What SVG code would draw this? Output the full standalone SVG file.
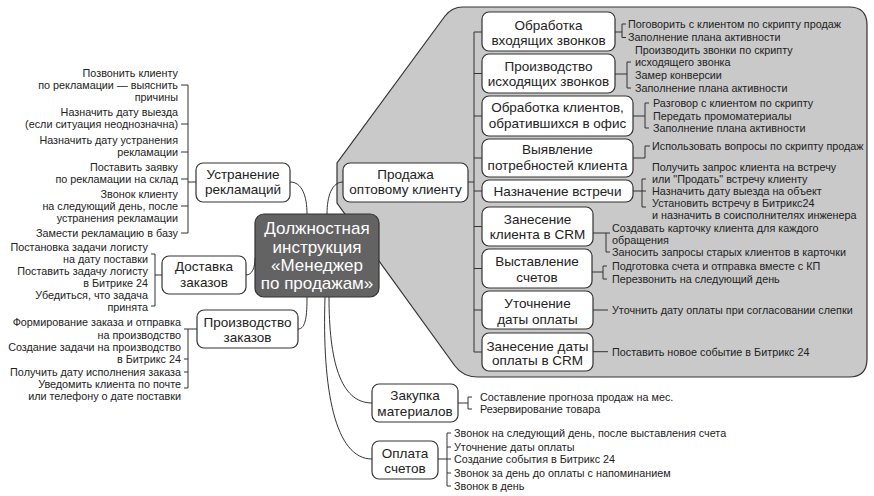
<svg xmlns="http://www.w3.org/2000/svg" width="874" height="496" viewBox="0 0 874 496">
<style>
text{font-family:"Liberation Sans",Arial,sans-serif;fill:#222}
.leaf{font-size:10.8px}
.l1{font-size:13.5px;text-anchor:middle}
.box{fill:#fff;stroke:#333;stroke-width:1.2}
.ln{fill:none;stroke:#333;stroke-width:1}
.ctr{font-size:17px;fill:#fff;text-anchor:middle}
.end{text-anchor:end}
</style>
<rect width="874" height="496" fill="#fff"/>
<g id="panel">
<path d="M463,7 L849,7 Q867,7 867,25 L867,359 Q867,377 849,377 L478,377 Q463,377 455,366 L337,203 L337,163 L445,16 Q452,7 463,7 Z" fill="#c9c9c9" stroke="#333" stroke-width="1.2"/>
</g>
<g id="connectors" class="ln">
<path d="M290,182 C302,182 307,196 307,214"/>
<path d="M327,214 C327,196 332,182 343,182"/>
<path d="M246,275 C252,275 255,268 255,258"/>
<path d="M307,297 C307,315 306,329 298,329"/>
<path d="M329,297 C329,360 340,403 372,403"/>
<path d="M325,297 C322,390 335,459 372,459"/>
<path d="M181,85 H188 V233 H181 M181,124 H188 M181,152 H188 M181,179 H188 M181,206 H188 M188,182 H196"/>
<path d="M151,254 H155 V306 H151 M155,275 H162"/>
<path d="M184,329 H197 M188,329 V388 H184 M184,359 H188 M184,372 H188"/>
<path d="M468,182 H474 M482,32 H474 V352 H482 M474,73.5 H482 M474,116 H482 M474,158 H482 M474,191 H482 M474,226.5 H482 M474,268.5 H482 M474,310 H482"/>
<path d="M615,32 H622 M626,24 H622 V37.5 H626"/>
<path d="M615,74 H627 M631,62 H627 V88 H631"/>
<path d="M633,116 H645 M649,103 H645 V128 H649"/>
<path d="M633,158 H645 V146 H650"/>
<path d="M633,191 H646 M646,179 H642 V207 H646"/>
<path d="M593,233 H610 M606,233 V252 H610"/>
<path d="M592,272 H603 M607,266 H603 V279 H607"/>
<path d="M593,310 H608"/>
<path d="M593,351.7 H608"/>
<path d="M458,403 H468 M472,397 H468 V409 H472"/>
<path d="M438,459 H451 M451,433 H447 V486 H451 M447,447 H451 M447,473 H451"/>
</g>
<g id="center">
<rect x="255" y="214" width="124" height="83" rx="9" fill="#636363" stroke="#333" stroke-width="1.2"/>
<text class="ctr" x="317" y="234">Должностная</text>
<text class="ctr" x="317" y="253">инструкция</text>
<text class="ctr" x="317" y="271">«Менеджер</text>
<text class="ctr" x="317" y="289">по продажам»</text>
</g>
<g id="node-prodazha">
<rect class="box" x="343" y="163" width="125" height="39" rx="7"/>
<text class="l1" x="405.5" y="178.7">Продажа</text>
<text class="l1" x="405.5" y="193.7">оптовому клиенту</text>
</g>
<g id="node-ustranenie">
<rect class="box" x="196" y="163" width="94" height="39" rx="7"/>
<text class="l1" x="243" y="178.7">Устранение</text>
<text class="l1" x="243" y="193.7">рекламаций</text>
<g class="leaf">
<text class="end" x="178" y="76.8">Позвонить клиенту</text>
<text class="end" x="178" y="88.8">по рекламации — выяснить</text>
<text class="end" x="178" y="100.8">причины</text>
<text class="end" x="178" y="115.8">Назначить дату выезда</text>
<text class="end" x="178" y="127.8">(если ситуация неоднозначна)</text>
<text class="end" x="178" y="143.8">Назначить дату устранения</text>
<text class="end" x="178" y="155.8">рекламации</text>
<text class="end" x="178" y="170.8">Поставить заявку</text>
<text class="end" x="178" y="182.8">по рекламации на склад</text>
<text class="end" x="178" y="197.8">Звонок клиенту</text>
<text class="end" x="178" y="209.8">на следующий день, после</text>
<text class="end" x="178" y="221.8">устранения рекламации</text>
<text class="end" x="178" y="236.8">Замести рекламацию в базу</text>
</g>
</g>
<g id="node-dostavka">
<rect class="box" x="162" y="256" width="84" height="38" rx="7"/>
<text class="l1" x="204" y="271.4">Доставка</text>
<text class="l1" x="204" y="287">заказов</text>
<g class="leaf">
<text class="end" x="148" y="250.8">Постановка задачи логисту</text>
<text class="end" x="148" y="262.8">на дату поставки</text>
<text class="end" x="148" y="274.8">Поставить задачу логисту</text>
<text class="end" x="148" y="286.8">в Битрике 24</text>
<text class="end" x="148" y="298.8">Убедиться, что задача</text>
<text class="end" x="148" y="310.8">принята</text>
</g>
</g>
<g id="node-proizvodstvo">
<rect class="box" x="197" y="310" width="101" height="38" rx="7"/>
<text class="l1" x="247.5" y="327.4">Производство</text>
<text class="l1" x="247.5" y="342">заказов</text>
<g class="leaf">
<text class="end" x="181" y="325.8">Формирование заказа и отправка</text>
<text class="end" x="181" y="338.8">на производство</text>
<text class="end" x="181" y="350.8">Создание задачи на производство</text>
<text class="end" x="181" y="362.8">в Битрикс 24</text>
<text class="end" x="181" y="375.8">Получить дату исполнения заказа</text>
<text class="end" x="181" y="387.8">Уведомить клиента по почте</text>
<text class="end" x="181" y="399.8">или телефону о дате поставки</text>
</g>
</g>
<g id="node-vhod">
<rect class="box" x="482" y="12" width="133" height="39" rx="7"/>
<text class="l1" x="548.5" y="29.7">Обработка</text>
<text class="l1" x="548.5" y="45.4">входящих звонков</text>
<text class="leaf" x="628" y="27.8">Поговорить с клиентом по скрипту продаж</text>
<text class="leaf" x="628" y="41.3">Заполнение плана активности</text>
</g>
<g id="node-ishod">
<rect class="box" x="482" y="54" width="133" height="39" rx="7"/>
<text class="l1" x="548.5" y="71.4">Производство</text>
<text class="l1" x="548.5" y="86.4">исходящих звонков</text>
<text class="leaf" x="635" y="53.8">Производить звонки по скрипту</text>
<text class="leaf" x="635" y="65.8">исходящего звонка</text>
<text class="leaf" x="635" y="78.8">Замер конверсии</text>
<text class="leaf" x="635" y="91.8">Заполнение плана активности</text>
</g>
<g id="node-ofis">
<rect class="box" x="482" y="96" width="151" height="40" rx="7"/>
<text class="l1" x="557.5" y="112">Обработка клиентов,</text>
<text class="l1" x="557.5" y="128">обратившихся в офис</text>
<text class="leaf" x="653" y="106.8">Разговор с клиентом по скрипту</text>
<text class="leaf" x="653" y="119.8">Передать промоматериалы</text>
<text class="leaf" x="653" y="131.8">Заполнение плана активности</text>
</g>
<g id="node-vyyavlenie">
<rect class="box" x="482" y="139" width="151" height="38" rx="7"/>
<text class="l1" x="557.5" y="154">Выявление</text>
<text class="l1" x="557.5" y="169.7">потребностей клиента</text>
<text class="leaf" x="652" y="149.8">Использовать вопросы по скрипту продаж</text>
</g>
<g id="node-vstrecha">
<rect class="box" x="482" y="180" width="151" height="22" rx="7"/>
<text class="l1" x="557.5" y="196.4">Назначение встречи</text>
<text class="leaf" x="652" y="170.8">Получить запрос клиента на встречу</text>
<text class="leaf" x="652" y="182.8">или "Продать" встречу клиенту</text>
<text class="leaf" x="652" y="194.8">Назначить дату выезда на объект</text>
<text class="leaf" x="652" y="206.8">Установить встречу в Битрикс24</text>
<text class="leaf" x="652" y="218.8">и назначить в соисполнителях инженера</text>
</g>
<g id="node-crm">
<rect class="box" x="482" y="207" width="111" height="39" rx="7"/>
<text class="l1" x="537.5" y="223.7">Занесение</text>
<text class="l1" x="537.5" y="239">клиента в CRM</text>
<text class="leaf" x="612" y="231.8">Создавать карточку клиента для каждого</text>
<text class="leaf" x="612" y="243.8">обращения</text>
<text class="leaf" x="612" y="255.8">Заносить запросы старых клиентов в карточки</text>
</g>
<g id="node-scheta">
<rect class="box" x="482" y="249" width="110" height="39" rx="7"/>
<text class="l1" x="537" y="266.4">Выставление</text>
<text class="l1" x="537" y="282">счетов</text>
<text class="leaf" x="612" y="269.8">Подготовка счета и отправка вместе с КП</text>
<text class="leaf" x="612" y="282.8">Перезвонить на следующий день</text>
</g>
<g id="node-utochnenie">
<rect class="box" x="482" y="291" width="111" height="38" rx="7"/>
<text class="l1" x="537.5" y="308">Уточнение</text>
<text class="l1" x="537.5" y="323.7">даты оплаты</text>
<text class="leaf" x="612" y="313.8">Уточнить дату оплаты при согласовании слепки</text>
</g>
<g id="node-data-crm">
<rect class="box" x="482" y="333" width="111" height="38" rx="7"/>
<text class="l1" x="537.5" y="350.7">Занесение даты</text>
<text class="l1" x="537.5" y="365.4">оплаты в CRM</text>
<text class="leaf" x="612" y="355.5">Поставить новое событие в Битрикс 24</text>
</g>
<g id="node-zakupka">
<rect class="box" x="372" y="384" width="86" height="38" rx="7"/>
<text class="l1" x="415" y="400.4">Закупка</text>
<text class="l1" x="415" y="415.7">материалов</text>
<text class="leaf" x="480" y="400.8">Составление прогноза продаж на мес.</text>
<text class="leaf" x="480" y="412.8">Резервирование товара</text>
</g>
<g id="node-oplata">
<rect class="box" x="372" y="441" width="66" height="38" rx="7"/>
<text class="l1" x="405" y="458">Оплата</text>
<text class="l1" x="405" y="473">счетов</text>
<text class="leaf" x="454" y="436.8">Звонок на следующий день, после выставления счета</text>
<text class="leaf" x="454" y="450.8">Уточнение даты оплаты</text>
<text class="leaf" x="454" y="462.8">Создание события в Битрикс 24</text>
<text class="leaf" x="454" y="476.8">Звонок за день до оплаты с напоминанием</text>
<text class="leaf" x="454" y="489.8">Звонок в день</text>
</g>
</svg>
